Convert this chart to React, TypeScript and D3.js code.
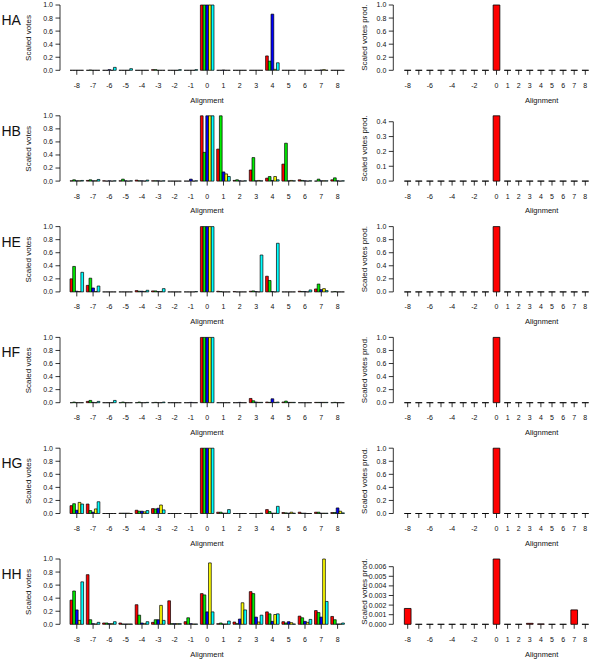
import React from 'react';
import * as d3 from 'd3';

const categories = [-8, -7, -6, -5, -4, -3, -2, -1, 0, 1, 2, 3, 4, 5, 6, 7, 8];
const seriesColors = ['#ff0000', '#00ee00', '#0000ff', '#ffff00', '#00ffff'];
const panelNames = ['HA', 'HB', 'HE', 'HF', 'HG', 'HH'];
const rightTickLabels = ['-8', '', '-6', '', '-4', '', '-2', '', '0', '1', '2', '3', '4', '5', '6', '7', '8'];
const leftYTicks = [0, 0.2, 0.4, 0.6, 0.8, 1.0];

// Scaled votes: [red, green, blue, yellow, cyan], each over categories -8..8
const haVotes = [
  [0, 0, 0, 0, 0, 0.01, 0, 0, 1, 0, 0, 0, 0.22, 0, 0, 0, 0],
  [0, 0.005, 0, 0, 0, 0.01, 0, 0, 1, 0, 0, 0, 0.14, 0, 0, 0, 0],
  [0, 0, 0.01, 0, 0, 0, 0, 0, 1, 0.005, 0, 0, 0.86, 0, 0, 0.005, 0],
  [0, 0, 0, 0, 0, 0, 0, 0, 1, 0, 0, 0, 0.015, 0, 0, 0.01, 0],
  [0, 0, 0.045, 0.025, 0, 0, 0.01, 0.01, 1, 0, 0, 0, 0.115, 0, 0, 0, 0],
];
const hbVotes = [
  [0.005, 0.01, 0.005, 0.005, 0.015, 0.005, 0, 0, 1, 0.49, 0.01, 0.17, 0.045, 0.26, 0.02, 0, 0.02],
  [0.02, 0.02, 0, 0.03, 0.005, 0.005, 0, 0, 0.44, 1, 0.02, 0.36, 0.07, 0.58, 0.01, 0.03, 0.05],
  [0.005, 0.005, 0.005, 0.005, 0.005, 0.005, 0, 0.03, 1, 0.14, 0.005, 0.005, 0.01, 0.005, 0.005, 0.005, 0.005],
  [0.005, 0.005, 0, 0, 0, 0, 0, 0, 1, 0.11, 0, 0.01, 0.07, 0.01, 0, 0.005, 0],
  [0.01, 0.025, 0.005, 0.005, 0.015, 0.005, 0, 0.005, 1, 0.07, 0.005, 0.005, 0.02, 0.005, 0.005, 0.005, 0.005],
];
const heVotes = [
  [0.2, 0.1, 0, 0, 0.02, 0.015, 0, 0, 1, 0.01, 0.005, 0.01, 0.24, 0, 0.01, 0.045, 0],
  [0.39, 0.21, 0, 0, 0.01, 0.015, 0, 0, 1, 0.005, 0, 0.015, 0.175, 0, 0.005, 0.12, 0.005],
  [0.01, 0.06, 0, 0, 0.01, 0.005, 0, 0, 1, 0, 0, 0.005, 0.005, 0, 0.005, 0.035, 0],
  [0.005, 0.005, 0, 0, 0.005, 0.005, 0, 0, 1, 0, 0, 0, 0, 0, 0, 0.05, 0],
  [0.3, 0.09, 0, 0, 0.025, 0.05, 0, 0.005, 1, 0, 0, 0.565, 0.745, 0, 0.03, 0.02, 0],
];
const hfVotes = [
  [0, 0.02, 0, 0, 0, 0, 0, 0, 1, 0, 0, 0.065, 0.01, 0.01, 0, 0.005, 0],
  [0.01, 0.035, 0, 0.01, 0.01, 0.005, 0, 0, 1, 0, 0, 0.03, 0.005, 0.025, 0, 0.005, 0.005],
  [0, 0.005, 0, 0, 0, 0, 0, 0.005, 1, 0, 0.005, 0.01, 0.06, 0.005, 0, 0.005, 0],
  [0, 0, 0, 0, 0, 0, 0, 0, 1, 0, 0, 0.005, 0.005, 0.005, 0, 0.005, 0],
  [0, 0.02, 0.035, 0, 0.005, 0.01, 0, 0, 1, 0, 0, 0.005, 0.01, 0.005, 0, 0.005, 0],
];
const hgVotes = [
  [0.12, 0.145, 0, 0.005, 0.05, 0.075, 0, 0, 1, 0.02, 0, 0, 0.06, 0.015, 0.02, 0.02, 0.015],
  [0.15, 0.045, 0, 0.005, 0.035, 0.07, 0, 0, 1, 0.02, 0, 0, 0.03, 0.01, 0.005, 0.02, 0.015],
  [0.05, 0.02, 0, 0.005, 0.035, 0.08, 0, 0, 1, 0.005, 0, 0, 0.005, 0.005, 0.005, 0.005, 0.085],
  [0.17, 0.07, 0, 0.005, 0.025, 0.13, 0, 0, 1, 0.005, 0, 0, 0.005, 0.02, 0, 0.005, 0.035],
  [0.145, 0.18, 0, 0, 0.045, 0.055, 0, 0, 1, 0.06, 0, 0.005, 0.11, 0.005, 0, 0.005, 0.01],
];
const hhVotes = [
  [0.37, 0.76, 0.02, 0.02, 0.3, 0.03, 0.36, 0.04, 0.47, 0.01, 0.035, 0.5, 0.19, 0.04, 0.125, 0.21, 0.12],
  [0.51, 0.07, 0.02, 0.005, 0.14, 0.07, 0.01, 0.1, 0.45, 0.02, 0.01, 0.47, 0.16, 0.02, 0.1, 0.18, 0.07],
  [0.22, 0.01, 0.01, 0.005, 0.02, 0.07, 0.01, 0.01, 0.19, 0.005, 0.08, 0.11, 0.045, 0.04, 0.045, 0.11, 0.005],
  [0.06, 0.005, 0.01, 0.005, 0.01, 0.29, 0.01, 0.005, 0.94, 0.005, 0.33, 0.035, 0.15, 0.025, 0.03, 1.0, 0.005],
  [0.65, 0.03, 0.04, 0.005, 0.04, 0.06, 0.01, 0.005, 0.19, 0.05, 0.22, 0.14, 0.16, 0.005, 0.075, 0.35, 0.02],
];

// Scaled votes product per category
const haProd = [0, 0, 0, 0, 0, 0, 0, 0, 1, 0, 0, 0, 0, 0, 0, 0, 0];
const hbProd = [0, 0, 0, 0, 0, 0, 0, 0, 0.44, 0, 0, 0, 0, 0, 0, 0, 0];
const heProd = [0, 0, 0, 0, 0, 0, 0, 0, 1, 0, 0, 0, 0, 0, 0, 0, 0];
const hfProd = [0, 0, 0, 0, 0, 0, 0, 0, 1, 0, 0, 0, 0, 0, 0, 0, 0];
const hgProd = [0, 0, 0, 0, 0, 0, 0, 0, 1, 0, 0, 0, 0, 0, 0, 0, 0];
const hhProd = [0.00165, 0, 0, 0, 0, 0, 0, 0, 0.0068, 0, 0, 0.0001, 0.00004, 0, 0, 0.0015, 0];

const panelVotes = [haVotes, hbVotes, heVotes, hfVotes, hgVotes, hhVotes];
const panelProds = [haProd, hbProd, heProd, hfProd, hgProd, hhProd];

const FONT = '"Liberation Sans", Arial, Helvetica, sans-serif';
const ROW_STEP = 110.8;
const PLOT_TOP = 5;
const PLOT_H = 65.3;
const TEXT = '#111';

const barPath = (x: number, w: number, y0: number, y1: number) =>
  `M${x},${y0}V${y1}H${x + w}V${y0}Z`;

function LeftPanel({ row }: { row: number }) {
  const t = row * ROW_STEP;
  const votes = panelVotes[row];
  const axisX = 60;
  const step = 16.3;
  const pad = 1 / 6;
  const x0 = d3.scaleBand<number>().domain(categories).range([70, 70 + step * (17 - pad)]).paddingInner(pad).paddingOuter(0);
  const x1 = d3.scaleBand<number>().domain([0, 1, 2, 3, 4]).range([0, x0.bandwidth()]);
  const y = d3.scaleLinear().domain([0, 1]).range([t + PLOT_TOP + PLOT_H, t + PLOT_TOP]);
  const base = y(0);
  return (
    <g>
      <text x={1.5} y={t + 25} fontSize={14} fontFamily={FONT} fill={TEXT}>{panelNames[row]}</text>
      <text transform={`translate(28,${t + 38}) rotate(-90)`} textAnchor="middle" dy="0.35em" fontSize={8} fontFamily={FONT} fill={TEXT}>Scaled votes</text>
      <line x1={axisX} x2={axisX} y1={y(0)} y2={y(1)} stroke="#000" strokeWidth={0.8} />
      {leftYTicks.map((v) => (
        <g key={v}>
          <line x1={axisX - 4.5} x2={axisX} y1={y(v)} y2={y(v)} stroke="#000" strokeWidth={0.8} />
          <text x={axisX - 7} y={y(v)} dy="0.35em" textAnchor="end" fontSize={7} fontFamily={FONT} fill={TEXT}>{d3.format('.1f')(v)}</text>
        </g>
      ))}
      {categories.map((c, ci) => (
        <g key={c}>
          {votes.map((series, si) => (
            <path key={si} d={barPath(x0(c)! + x1(si)!, x1.bandwidth(), base, y(series[ci]))} fill={seriesColors[si]} stroke="#000" strokeWidth={0.7} />
          ))}
          <line x1={x0(c)! + x0.bandwidth() / 2} x2={x0(c)! + x0.bandwidth() / 2} y1={base} y2={base + 4.5} stroke="#000" strokeWidth={0.8} />
          <text x={x0(c)! + x0.bandwidth() / 2} y={base + 15} dy="0.35em" textAnchor="middle" fontSize={7} fontFamily={FONT} fill={TEXT}>{String(c)}</text>
        </g>
      ))}
      <text x={207} y={t + 100} dy="0.35em" textAnchor="middle" fontSize={7.5} fontFamily={FONT} fill={TEXT}>Alignment</text>
    </g>
  );
}

function RightPanel({ row }: { row: number }) {
  const t = row * ROW_STEP;
  const prod = panelProds[row];
  const axisX = 393.3;
  const step = 11.1;
  const pad = 1 - 6.7 / 11.1;
  const left = 407.7 - 3.35;
  const x = d3.scaleBand<number>().domain(categories).range([left, left + step * (17 - pad)]).paddingInner(pad).paddingOuter(0);
  const maxV = d3.max(prod) as number;
  const y = d3.scaleLinear().domain([0, maxV]).range([t + PLOT_TOP + PLOT_H, t + PLOT_TOP]);
  const ticks = d3.ticks(0, maxV, 5);
  const tickStep = d3.tickStep(0, maxV, 5);
  const fmt = d3.format(`.${d3.precisionFixed(tickStep)}f`);
  const base = y(0);
  return (
    <g>
      <text transform={`translate(364,${t + 37.6}) rotate(-90)`} textAnchor="middle" dy="0.35em" fontSize={8} fontFamily={FONT} fill={TEXT}>Scaled votes prod.</text>
      <line x1={axisX} x2={axisX} y1={y(0)} y2={y(ticks[ticks.length - 1])} stroke="#000" strokeWidth={0.8} />
      {ticks.map((v) => (
        <g key={v}>
          <line x1={axisX - 4.5} x2={axisX} y1={y(v)} y2={y(v)} stroke="#000" strokeWidth={0.8} />
          <text x={axisX - 7} y={y(v)} dy="0.35em" textAnchor="end" fontSize={7} fontFamily={FONT} fill={TEXT}>{fmt(v)}</text>
        </g>
      ))}
      {categories.map((c, ci) => (
        <g key={c}>
          <path d={barPath(x(c)!, x.bandwidth(), base, y(prod[ci]))} fill="#ff0000" stroke="#000" strokeWidth={0.8} />
          <line x1={x(c)! + x.bandwidth() / 2} x2={x(c)! + x.bandwidth() / 2} y1={base} y2={base + 4.5} stroke="#000" strokeWidth={0.8} />
          {rightTickLabels[ci] && (
            <text x={x(c)! + x.bandwidth() / 2} y={base + 15} dy="0.35em" textAnchor="middle" fontSize={7} fontFamily={FONT} fill={TEXT}>{rightTickLabels[ci]}</text>
          )}
        </g>
      ))}
      <text x={541.7} y={t + 100} dy="0.35em" textAnchor="middle" fontSize={7.5} fontFamily={FONT} fill={TEXT}>Alignment</text>
    </g>
  );
}

export default function App() {
  return (
    <svg width={591} height={662} style={{ position: 'absolute', left: 0, top: 0, background: '#fff' }}>
      <rect x={0} y={0} width={591} height={662} fill="#fff" />
      {panelNames.map((_, i) => (
        <g key={i}>
          <LeftPanel row={i} />
          <RightPanel row={i} />
        </g>
      ))}
    </svg>
  );
}
